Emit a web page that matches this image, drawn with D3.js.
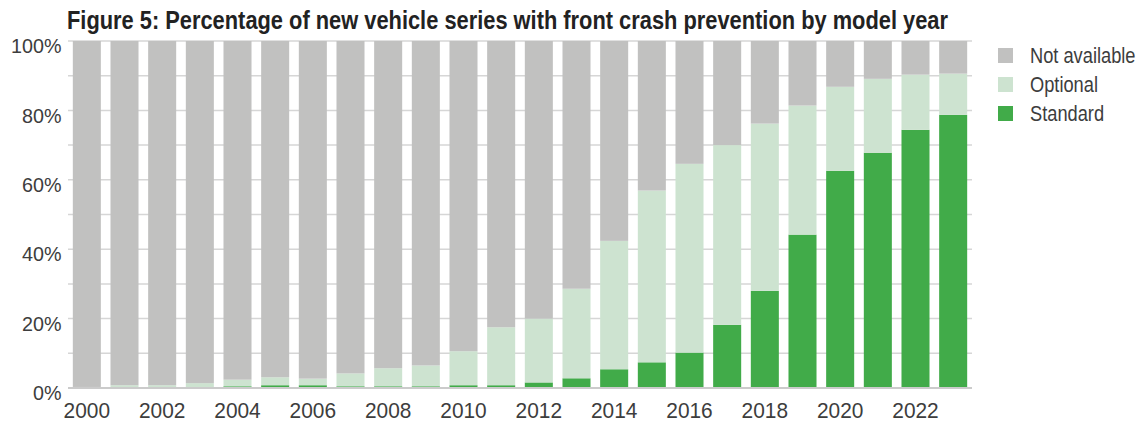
<!DOCTYPE html>
<html>
<head>
<meta charset="utf-8">
<script src="https://cdn.jsdelivr.net/npm/d3@7"></script>
<style>
  body { margin: 0; background: #fff; }
  text { font-family: "Liberation Sans", Arial, sans-serif; }
</style>
</head>
<body>
<svg id="chart"></svg>
<script>
// Front crash prevention by model year (share of new vehicle series, %)
const years = d3.range(2000, 2024);
const standard     = [0, 0, 0, 0, 0.5, 0.8, 0.8, 0.5, 0.5, 0.5, 0.8, 0.8, 1.6, 2.8, 5.4, 7.4, 10.2, 18.2, 28.0, 44.2, 62.6, 67.8, 74.4, 78.7];
const optional     = [0.3, 0.8, 0.8, 1.4, 1.9, 2.3, 1.9, 3.7, 5.2, 6.0, 9.8, 16.7, 18.4, 25.8, 37.0, 49.5, 54.4, 51.8, 48.2, 37.2, 24.2, 21.3, 15.9, 11.9];
const notAvailable = [99.7, 99.2, 99.2, 98.6, 97.6, 96.9, 97.3, 95.8, 94.3, 93.5, 89.4, 82.5, 80.0, 71.4, 57.6, 43.1, 35.4, 30.0, 23.8, 18.6, 13.2, 10.9, 9.7, 9.4];
const yTicks = [0, 20, 40, 60, 80, 100];
const xTickYears = d3.range(2000, 2024, 2);

const keys = ['Standard', 'Optional', 'Not available'];
const colors = { 'Standard': '#41ab49', 'Optional': '#cde3d0', 'Not available': '#c1c1c0' };

const width = 1147, height = 423;
const margin = { top: 41, right: 175, bottom: 35, left: 68 };
const textColor = '#3d3d3d';

const svg = d3.select('#chart').attr('width', width).attr('height', height);

const rows = years.map((y, i) => ({
  year: y,
  'Standard': standard[i],
  'Optional': optional[i],
  'Not available': notAvailable[i]
}));

const x = d3.scaleBand()
  .domain(years)
  .range([margin.left, width - margin.right])
  .paddingInner(0.256)
  .paddingOuter(0.128);

const y = d3.scaleLinear()
  .domain([0, 100])
  .range([height - margin.bottom, margin.top]);

// gridlines every 10%
svg.append('g')
  .selectAll('line')
  .data(d3.range(10, 101, 10))
  .enter().append('line')
  .attr('x1', margin.left)
  .attr('x2', width - margin.right)
  .attr('y1', d => y(d))
  .attr('y2', d => y(d))
  .attr('stroke', '#d6d6d6')
  .attr('stroke-width', 1.5);

// stacked bars
const stack = d3.stack().keys(keys)(rows);
svg.append('g')
  .selectAll('g')
  .data(stack)
  .enter().append('g')
  .attr('fill', d => colors[d.key])
  .selectAll('rect')
  .data(d => d)
  .enter().append('rect')
  .attr('x', d => x(d.data.year))
  .attr('width', x.bandwidth())
  .attr('y', d => y(d[1]))
  .attr('height', d => y(d[0]) - y(d[1]));

// baseline
svg.append('line')
  .attr('x1', margin.left)
  .attr('x2', width - margin.right)
  .attr('y1', y(0))
  .attr('y2', y(0))
  .attr('stroke', '#cbcbcb')
  .attr('stroke-width', 2);

// y axis labels (sit a little below their gridline, as in the source)
const yAxis = d3.axisLeft(y).tickValues(yTicks).tickFormat(d => d + '%').tickSize(0).tickPadding(7);
svg.append('g')
  .attr('transform', `translate(${margin.left},5)`)
  .call(yAxis)
  .call(g => g.select('.domain').remove())
  .selectAll('text')
  .attr('font-size', 21)
  .attr('fill', textColor)
  .attr('transform', 'scale(0.94,1)')
  .style('font-family', '"Liberation Sans", Arial, sans-serif');

// x axis labels
const xAxis = d3.axisBottom(x).tickValues(xTickYears).tickSize(0).tickPadding(14);
svg.append('g')
  .attr('transform', `translate(0,${y(0)})`)
  .call(xAxis)
  .call(g => g.select('.domain').remove())
  .selectAll('text')
  .attr('font-size', 22)
  .attr('fill', textColor)
  .attr('transform', 'scale(0.95,1)')
  .style('font-family', '"Liberation Sans", Arial, sans-serif');

// title
svg.append('text')
  .attr('x', 67)
  .attr('y', 29)
  .attr('font-size', 25)
  .attr('font-weight', 'bold')
  .attr('fill', '#222')
  .attr('textLength', 881)
  .attr('lengthAdjust', 'spacingAndGlyphs')
  .text('Figure 5: Percentage of new vehicle series with front crash prevention by model year');

// legend
const legendKeys = ['Not available', 'Optional', 'Standard'];
const legend = svg.append('g')
  .selectAll('g')
  .data(legendKeys)
  .enter().append('g')
  .attr('transform', (d, i) => `translate(998,${55.5 + i * 29})`);

legend.append('rect')
  .attr('x', 0)
  .attr('y', -7.5)
  .attr('width', 15)
  .attr('height', 15)
  .attr('fill', d => colors[d]);

legend.append('text')
  .attr('transform', 'translate(32,7) scale(0.83,1)')
  .attr('font-size', 22)
  .attr('fill', textColor)
  .text(d => d);
</script>
</body>
</html>
